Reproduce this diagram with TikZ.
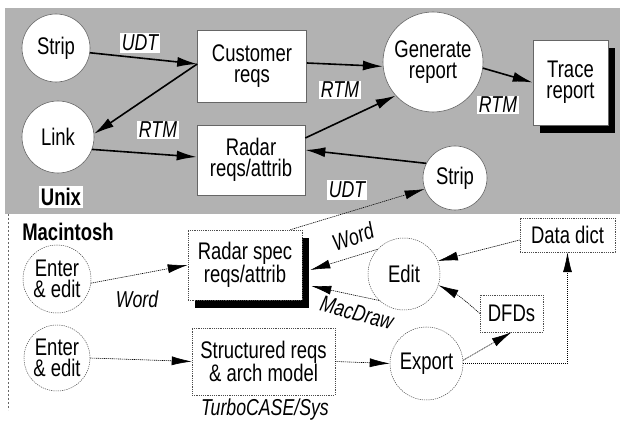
\documentclass[tikz,border=0pt]{standalone}
\usepackage{fontspec}
\setmainfont[FakeStretch=0.77]{Liberation Sans}
\usetikzlibrary{arrows.meta,shadows}
\begin{document}
\begin{tikzpicture}[x=1pt,y=-1pt,
  every node/.style={font=\fontsize{24}{21}\selectfont, align=center, inner sep=0pt},
  ucirc/.style={circle, draw=black!60, fill=white, line width=0.6pt},
  ubox/.style={rectangle, draw=black!60, fill=white, line width=0.6pt},
  mcirc/.style={circle, draw=black!70, dash pattern=on 1.2pt off 1pt, line width=0.5pt, fill=white},
  mbox/.style={rectangle, draw=black!70, dash pattern=on 1.2pt off 1pt, line width=0.5pt, fill=white},
  uarrow/.style={line width=1.6pt, -{Latex[length=20pt,width=10pt]}},
  marrow/.style={line width=0.6pt, dash pattern=on 1.2pt off 0.8pt, -{Latex[length=20pt,width=9pt]}},
  lab/.style={font=\fontsize{23}{21}\selectfont\itshape, fill=white, inner sep=1.5pt},
  mlab/.style={font=\fontsize{23}{21}\selectfont\itshape},
  blab/.style={font=\fontsize{24}{21}\selectfont\bfseries},
  shade/.style={general shadow={fill=black, shadow xshift=7pt, shadow yshift=-8pt}}
]
\useasboundingbox (0,0) rectangle (622,427);
\fill[black!30] (5,8) rectangle (620,214);
\draw[black!60, dash pattern=on 2pt off 2pt, line width=0.5pt] (8,214) -- (8,410);

% Unix part
\node[ucirc, minimum size=68pt] (strip1) at (56,48) {Strip};
\node[ucirc, minimum size=72pt] (link) at (58,137) {Link};
\node[ubox, minimum width=109pt, minimum height=72pt] (cust) at (252,66) {Customer\\reqs};
\node[ubox, minimum width=108pt, minimum height=70pt] (radar) at (251,160) {Radar\\reqs/attrib};
\node[ucirc, minimum size=100pt] (gen) at (433,62) {Generate\\report};
\node[ubox, shade, minimum width=75pt, minimum height=85pt] (trace) at (570.5,82.5) {Trace\\report};
\node[ucirc, minimum size=64pt] (strip2) at (455,178) {Strip};
\node[blab, fill=white, inner sep=2pt] (unix) at (61,197) {Unix};

\draw[uarrow] (strip1.-8) -- ([yshift=2pt]cust.west);
\draw[uarrow] ([yshift=2pt]cust.west) -- (link.5);
\draw[uarrow] (link.-20) -- ([yshift=3pt]radar.west);
\draw[uarrow] ([yshift=3pt]cust.east) -- (gen.185);
\draw[uarrow] ([yshift=22pt]radar.east) -- (gen.222);
\draw[uarrow] (gen.-7) -- (trace.west);
\draw[uarrow] (strip2.153) -- ([yshift=10pt]radar.east);

\node[lab] (udt1) at (140,43) {UDT};
\node[lab] (rtm1) at (158,130) {RTM};
\node[lab] (rtm2) at (340,90) {RTM};
\node[lab] (rtm3) at (498,105) {RTM};
\node[lab] (udt2) at (347,190) {UDT};

% Macintosh part
\node[blab] (mac) at (68,232) {Macintosh};
\node[mcirc, minimum size=68pt] (enter1) at (57,279) {Enter\\\&~edit};
\node[mcirc, minimum size=66pt] (enter2) at (57,358) {Enter\\\&~edit};
\node[mbox, shade, minimum width=114pt, minimum height=70pt] (spec) at (245,265) {Radar spec\\reqs/attrib};
\node[mbox, minimum width=143pt, minimum height=67pt] (struct) at (263.5,361.5) {Structured reqs\\\&~arch model};
\node[mlab] (turbo) at (265,410) {TurboCASE/Sys};
\node[mcirc, minimum size=72pt] (edit) at (404,274) {Edit};
\node[mbox, minimum width=95pt, minimum height=34pt] (dict) at (567.5,235) {Data dict};
\node[mbox, minimum width=63pt, minimum height=37pt] (dfds) at (511.5,313.5) {DFDs};
\node[mcirc, minimum size=73pt] (export) at (426.5,363.5) {Export};

\draw[marrow] ([xshift=-12pt]spec.north east) -- (strip2.200);
\draw[marrow] (enter1.-7) -- (spec.west);
\draw[marrow] (edit.137) -- ([xshift=8pt,yshift=-5pt]spec.east);
\draw[marrow] (edit.227) -- ([xshift=9pt,yshift=-21pt]spec.east);
\draw[marrow] ([yshift=-5pt]dict.west) -- (edit.21);
\draw[marrow] (dfds.west) to[bend right=8] (edit.-18);
\draw[marrow] (export.5) -- (dfds.south);
\draw[marrow] (export.east) -| (dict.south);
\draw[marrow] (enter2.east) -- (struct.west);
\draw[marrow] (struct.east) -- (export.west);

\node[mlab] (word1) at (137,299) {Word};
\node[mlab, rotate=20] (word2) at (353,237) {Word};
\node[mlab, rotate=-15] (macdraw) at (357,313) {MacDraw};
\end{tikzpicture}
\end{document}
